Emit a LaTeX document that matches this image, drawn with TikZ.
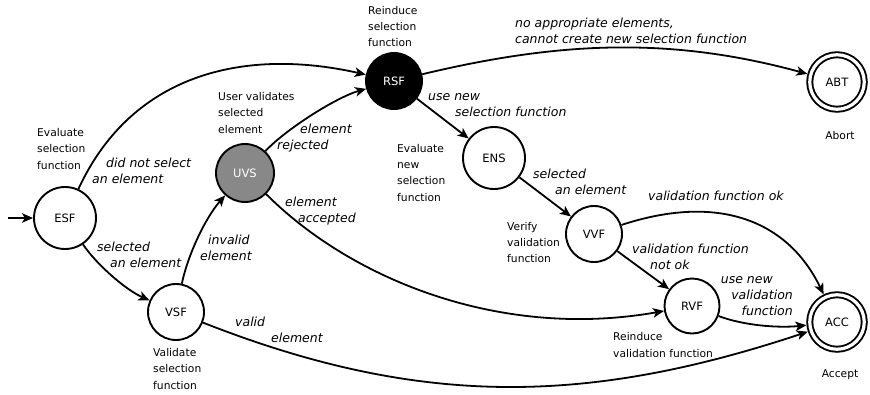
\documentclass[tikz,border=0pt]{standalone}
\usepackage{fontspec}
\setmainfont{DejaVu Sans}
\usetikzlibrary{arrows.meta}
\definecolor{uvsgray}{RGB}{136,136,136}
\begin{document}
\begin{tikzpicture}[x=1pt,y=1pt,
  state/.style={circle,draw,line width=1.9pt,inner sep=0pt,font=\fontsize{11.5}{13}\selectfont},
  final/.style={state,double,double distance=3.2pt,outer sep=3.5pt},
  desc/.style={font=\fontsize{10.7}{16.3}\selectfont,align=left,anchor=west,inner sep=0pt},
  elab/.style={font=\fontsize{12.5}{16}\selectfont\itshape,align=left,anchor=west,inner sep=0pt},
  edge/.style={line width=1.8pt,-{Stealth[length=11pt,width=9.5pt,inset=2.8pt]}}
]
\useasboundingbox (0,0) rectangle (870,-394);

% states
\node[state,minimum size=62pt] (ESF) at (65,-218) {ESF};
\node[state,minimum size=56pt] (VSF) at (176,-312) {VSF};
\node[state,minimum size=58pt,fill=uvsgray,text=white] (UVS) at (245,-173) {UVS};
\node[state,minimum size=56pt,fill=black,text=white] (RSF) at (394,-81) {RSF};
\node[state,minimum size=62pt] (ENS) at (494,-158) {ENS};
\node[state,minimum size=56pt] (VVF) at (594,-234) {VVF};
\node[state,minimum size=55pt] (RVF) at (692,-306) {RVF};
\node[final,minimum size=54.5pt] (ABT) at (837,-82) {ABT};
\node[final,minimum size=54.5pt] (ACC) at (837,-322) {ACC};

% descriptions
\node[desc] (dESF) at (37,-149) {Evaluate\\selection\\function};
\node[desc] (dUVS) at (218,-113) {User validates\\selected\\element};
\node[desc] (dRSF) at (368,-26.5) {Reinduce\\selection\\function};
\node[desc] (dENS) at (397,-172.75) {Evaluate\\new\\selection\\function};
\node[desc] (dVVF) at (507,-242.5) {Verify\\validation\\function};
\node[desc] (dVSF) at (153,-369) {Validate\\selection\\function};
\node[desc] (dRVF) at (613,-345) {Reinduce\\validation function};
\node[desc,anchor=center] (dABT) at (840,-136) {Abort};
\node[desc,anchor=center] (dACC) at (840,-375) {Accept};

% start arrow
\coordinate (start) at (8,-218);
\draw[edge] (start) -- (ESF);

% transitions
\draw[edge] (ESF) .. controls (133,-71) and (248,-48) .. (RSF);
\draw[edge] (ESF) .. controls (97,-265) and (126,-290) .. (VSF);
\draw[edge] (VSF) .. controls (188,-254) and (206,-217) .. (UVS);
\draw[edge] (UVS) .. controls (286,-129) and (337,-97) .. (RSF);
\draw[edge] (UVS) .. controls (351,-279) and (500,-340) .. (RVF);
\draw[edge] (VSF) .. controls (420,-408) and (587,-405) .. (ACC);
\draw[edge] (RSF) .. controls (559,-41.5) and (670,-36.4) .. (ABT);
\draw[edge] (RSF) -- (ENS);
\draw[edge] (ENS) -- (VVF);
\draw[edge] (VVF) .. controls (718.6,-193) and (788,-220.7) .. (ACC);
\draw[edge] (VVF) -- (RVF);
\draw[edge] (RVF) .. controls (745,-326) and (780,-328) .. (ACC);

% edge labels
\node[elab] (l1) at (92,-171) {\hspace*{14pt}did not select\\an element};
\node[elab] (l2) at (97,-254.5) {selected\\\hspace*{13pt}an element};
\node[elab] (l3) at (200,-248) {\hspace*{8pt}invalid\\element};
\node[elab] (l4) at (277,-138.5) {\hspace*{23pt}element\\rejected};
\node[elab] (l5) at (285,-211) {element\\\hspace*{13pt}accepted};
\node[elab] (l6) at (515,-30.5) {no appropriate elements,\\cannot create new selection function};
\node[elab] (l7) at (428,-105.5) {use new\\\hspace*{27pt}selection function};
\node[elab] (l8) at (533,-181.5) {selected\\\hspace*{22pt}an element};
\node[elab] (l9) at (648,-196) {validation function ok};
\node[elab] (l10) at (632,-256.5) {validation function\\\hspace*{18pt}not ok};
\node[elab,align=right,anchor=east] (l11) at (793,-296) {use new\hspace*{20pt}\\validation\\function};
\node[elab] (l12) at (235,-330) {valid\\\hspace*{36pt}element};
\end{tikzpicture}
\end{document}
